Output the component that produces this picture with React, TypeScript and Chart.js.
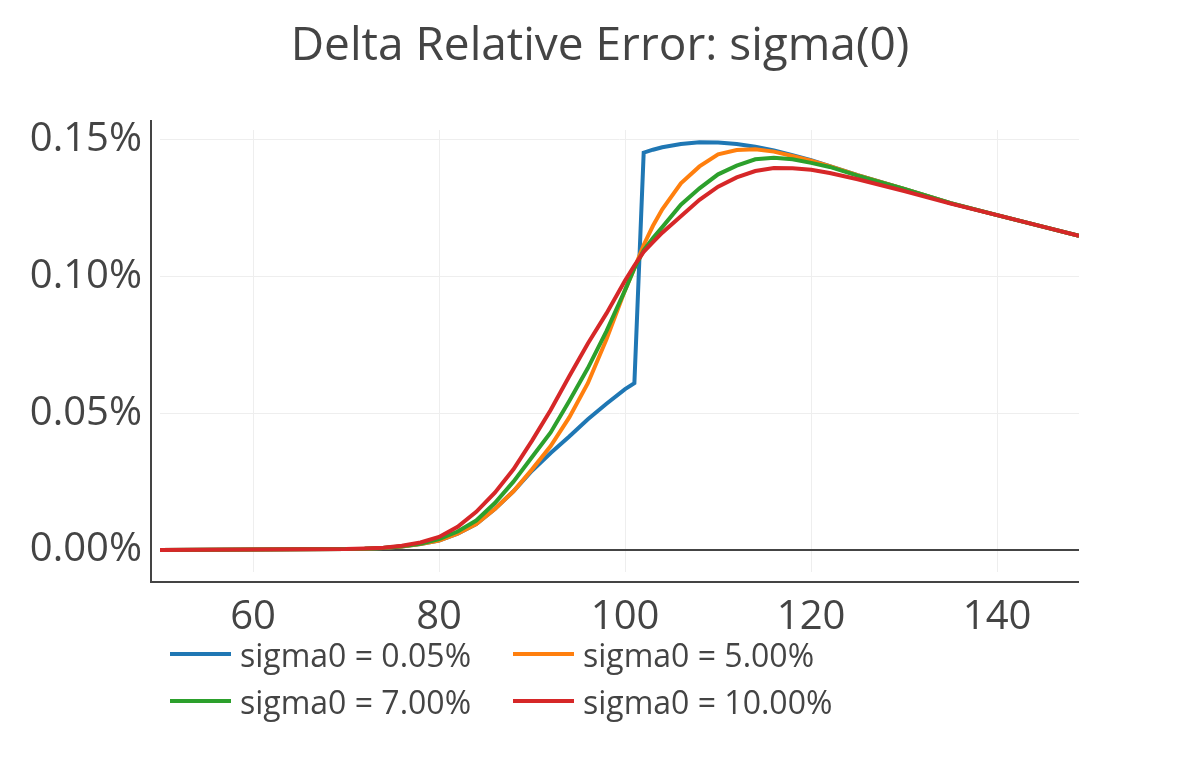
import React, { useEffect, useRef } from "react";
import { Chart, registerables } from "chart.js";

Chart.register(...registerables);

const titleText = "Delta Relative Error: sigma(0)";

const spotValues = [
  50, 55, 60, 65, 70, 72, 74, 76, 78, 80, 82, 84, 86, 88, 90, 92, 94, 96, 98, 100,
  101, 102, 103, 104, 106, 108, 110, 112, 114, 116, 118, 120, 122, 125, 130, 135, 140, 145, 148.8,
];

const sigma005 = [
  0, 0.0001, 0.0002, 0.0003, 0.0004, 0.0005, 0.0008, 0.0013, 0.0022,
  0.0035, 0.006, 0.0095, 0.015, 0.0215, 0.029, 0.0355, 0.0415, 0.0478, 0.0535, 0.0588,
  0.061, 0.1452, 0.1463, 0.1472,
  0.1484, 0.149, 0.1489, 0.1484, 0.1474, 0.146, 0.1443, 0.1425, 0.1403,
  0.137, 0.132, 0.1268, 0.1224, 0.1181, 0.1148,
];

const sigma500 = [
  0, 0.0001, 0.0002, 0.0003, 0.0004, 0.0005, 0.0008, 0.0013, 0.0022,
  0.0035, 0.006, 0.0095, 0.015, 0.0215, 0.0295, 0.038, 0.0485, 0.061, 0.077, 0.095,
  0.103, 0.1115, 0.1185, 0.1245,
  0.134, 0.1402, 0.1446, 0.1462, 0.1465, 0.1456, 0.144, 0.1423, 0.1403,
  0.137, 0.132, 0.1268, 0.1224, 0.1181, 0.1148,
];

const sigma700 = [
  0, 0.0001, 0.0002, 0.0003, 0.0004, 0.0005, 0.0008, 0.0014, 0.0023,
  0.004, 0.0068, 0.0108, 0.0172, 0.025, 0.034, 0.043, 0.0545, 0.0665, 0.08, 0.095,
  0.103, 0.1095, 0.114, 0.118,
  0.1262, 0.1322, 0.1373, 0.1405, 0.1428, 0.1434, 0.1428, 0.1415, 0.14,
  0.1368, 0.132, 0.1268, 0.1224, 0.1181, 0.1148,
];

const sigma1000 = [
  0, 0.0001, 0.0002, 0.0003, 0.0004, 0.0006, 0.0009, 0.0016, 0.0028,
  0.0048, 0.0085, 0.014, 0.021, 0.0295, 0.04, 0.0512, 0.0635, 0.0755, 0.0865, 0.0985,
  0.104, 0.109, 0.1125, 0.116,
  0.122, 0.128, 0.1328, 0.1362, 0.1385, 0.1396, 0.1395, 0.139, 0.1378,
  0.1355, 0.1312, 0.1266, 0.1224, 0.1181, 0.1148,
];

const seriesLabels = ["sigma0 = 0.05%", "sigma0 = 5.00%", "sigma0 = 7.00%", "sigma0 = 10.00%"];
const seriesValues = [sigma005, sigma500, sigma700, sigma1000];
const seriesColors = ["#1f77b4", "#ff7f0e", "#2ca02c", "#d62728"];

const xTickValues = [60, 80, 100, 120, 140];
const yTickValues = [0, 0.05, 0.1, 0.15];

const FONT = "'Open Sans', 'Noto Sans', sans-serif";
const TEXT = "#444";

const decorPlugin = {
  id: "decor",
  beforeDatasetsDraw(chart: any) {
    const { ctx, chartArea, scales } = chart;
    const y0 = scales.y.getPixelForValue(0);
    ctx.save();
    ctx.strokeStyle = "#444";
    ctx.lineWidth = 2;
    ctx.beginPath();
    ctx.moveTo(chartArea.left, y0);
    ctx.lineTo(chartArea.right, y0);
    ctx.stroke();
    ctx.restore();
  },
  afterDraw(chart: any) {
    const { ctx, chartArea } = chart;
    ctx.save();
    ctx.strokeStyle = "#444";
    ctx.lineWidth = 2;
    ctx.beginPath();
    ctx.moveTo(chartArea.left - 9, chartArea.top - 10);
    ctx.lineTo(chartArea.left - 9, chartArea.bottom + 10);
    ctx.lineTo(chartArea.right, chartArea.bottom + 10);
    ctx.stroke();
    ctx.fillStyle = TEXT;
    ctx.font = `46px ${FONT}`;
    ctx.textAlign = "center";
    ctx.textBaseline = "alphabetic";
    ctx.fillText(titleText, 600, 60);
    ctx.restore();
  },
};

export default function App() {
  const canvasRef = useRef<HTMLCanvasElement | null>(null);

  useEffect(() => {
    document.body.style.margin = "0";
    const canvas = canvasRef.current;
    if (!canvas) return;
    const chart = new Chart(canvas, {
      type: "line",
      data: {
        datasets: seriesValues.map((vals, i) => ({
          label: seriesLabels[i],
          data: spotValues.map((x, j) => ({ x, y: vals[j] })),
          borderColor: seriesColors[i],
          backgroundColor: seriesColors[i],
          borderWidth: 4,
          pointRadius: 0,
          tension: 0,
          fill: false,
          order: seriesValues.length - 1 - i,
        })),
      },
      options: {
        animation: false,
        responsive: false,
        maintainAspectRatio: false,
        layout: { padding: { top: 130, right: 121, left: 0, bottom: 0 } },
        plugins: {
          legend: { display: false },
          title: { display: false },
          tooltip: { enabled: false },
        },
        scales: {
          x: {
            type: "linear",
            min: 50,
            max: 148.8,
            afterBuildTicks: (scale: any) => {
              scale.ticks = xTickValues.map((v) => ({ value: v }));
            },
            afterFit: (scale: any) => {
              scale.height = 188;
            },
            grid: { color: "#eeeeee", lineWidth: 1, drawTicks: false },
            border: { display: false },
            ticks: {
              color: TEXT,
              font: { family: FONT, size: 40 },
              padding: 22,
              maxRotation: 0,
              callback: (v: any) => String(v),
            },
          },
          y: {
            type: "linear",
            min: -0.008,
            max: 0.1535,
            afterBuildTicks: (scale: any) => {
              scale.ticks = yTickValues.map((v) => ({ value: v }));
            },
            afterFit: (scale: any) => {
              scale.width = 160;
            },
            grid: { color: "#eeeeee", lineWidth: 1, drawTicks: false },
            border: { display: false },
            ticks: {
              color: TEXT,
              font: { family: FONT, size: 40 },
              padding: 18,
              callback: (v: any) => Number(v).toFixed(2) + "%",
            },
          },
        },
      },
      plugins: [decorPlugin],
    });
    return () => chart.destroy();
  }, []);

  const legendPos = [
    { left: 170, top: 654 },
    { left: 513, top: 654 },
    { left: 170, top: 701 },
    { left: 513, top: 701 },
  ];

  return (
    <div style={{ position: "relative", width: 1200, height: 760, background: "#fff" }}>
      <canvas ref={canvasRef} width={1200} height={760} style={{ display: "block", width: 1200, height: 760 }} />
      {seriesLabels.map((label, i) => (
        <div
          key={label}
          style={{
            position: "absolute",
            left: legendPos[i].left,
            top: legendPos[i].top - 22,
            height: 44,
            display: "flex",
            alignItems: "center",
            fontFamily: FONT,
            fontSize: 32,
            color: TEXT,
            whiteSpace: "nowrap",
          }}
        >
          <span style={{ display: "inline-block", width: 61, height: 4, background: seriesColors[i], marginRight: 9 }} />
          <span>{label}</span>
        </div>
      ))}
    </div>
  );
}
